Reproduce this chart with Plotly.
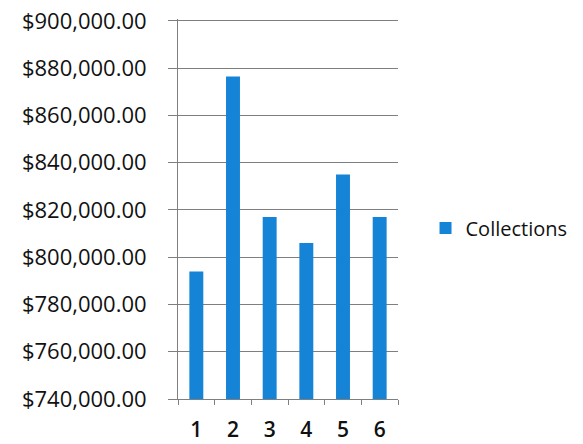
import plotly.graph_objects as go

categories = ["1", "2", "3", "4", "5", "6"]
collections = [794000, 876500, 817000, 806000, 835000, 817000]
y_ticks = [740000, 760000, 780000, 800000, 820000, 840000, 860000, 880000, 900000]
y_tick_labels = ["${:,.2f}".format(v) for v in y_ticks]

fig = go.Figure()
fig.add_trace(go.Bar(
    x=categories,
    y=collections,
    name="Collections",
    marker=dict(color="#1583D6", line=dict(width=0)),
    width=0.38,
))

font_family = "'Open Sans', Lato, sans-serif"

fig.update_layout(
    width=583,
    height=444,
    margin=dict(l=178, r=184, t=19, b=45),
    paper_bgcolor="white",
    plot_bgcolor="white",
    showlegend=True,
    legend=dict(
        x=1.12, y=0.45, xanchor="left", yanchor="middle",
        font=dict(family=font_family, size=20, color="#111111"),
        itemwidth=30,
    ),
    xaxis=dict(
        type="category",
        range=[-0.5, 5.5],
        tickson="boundaries",
        ticks="outside",
        ticklen=5,
        tickcolor="#7f7f7f",
        showline=True,
        linecolor="#7f7f7f",
        linewidth=1,
        showgrid=False,
        automargin=False,
        tickfont=dict(family=font_family, size=21, color="#111111", weight=600),
        ticklabelstandoff=12,
    ),
    yaxis=dict(
        range=[740000, 900800],
        tickvals=y_ticks,
        ticktext=y_tick_labels,
        ticks="outside",
        ticklen=9,
        tickcolor="#7f7f7f",
        showline=True,
        linecolor="#7f7f7f",
        linewidth=1,
        showgrid=True,
        gridcolor="#7f7f7f",
        gridwidth=1,
        zeroline=False,
        automargin=False,
        tickfont=dict(family=font_family, size=22, color="#111111"),
        ticklabelstandoff=17,
    ),
)

fig.write_html("out.html")
